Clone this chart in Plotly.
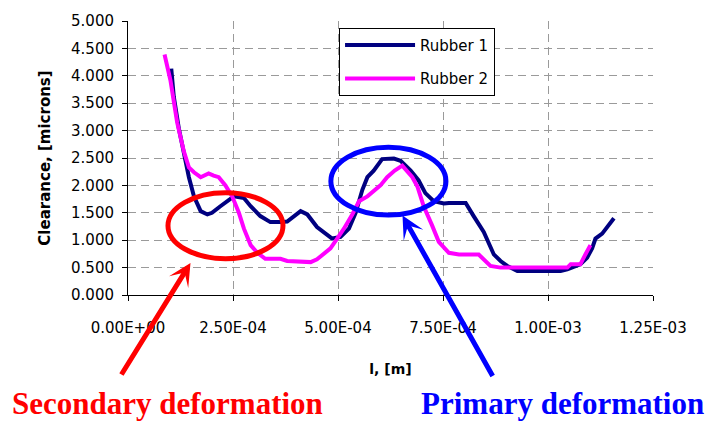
import plotly.graph_objects as go

# ---- data ----
x_r1 = [1.03e-4, 1.09e-4, 1.21e-4, 1.33e-4, 1.45e-4, 1.57e-4, 1.73e-4, 1.89e-4, 2.00e-4, 2.20e-4,
        2.36e-4, 2.52e-4, 2.76e-4, 2.92e-4, 3.15e-4, 3.39e-4, 3.63e-4, 3.79e-4, 4.11e-4, 4.27e-4,
        4.50e-4, 4.70e-4, 4.86e-4, 5.06e-4, 5.26e-4, 5.42e-4, 5.58e-4, 5.70e-4, 5.85e-4, 6.05e-4,
        6.25e-4, 6.33e-4, 6.49e-4, 6.73e-4, 6.92e-4, 7.08e-4, 7.28e-4, 7.52e-4, 7.64e-4, 8.04e-4,
        8.23e-4, 8.47e-4, 8.71e-4, 8.87e-4, 9.03e-4, 9.27e-4, 1.030e-3, 1.046e-3, 1.077e-3, 1.093e-3,
        1.105e-3, 1.113e-3, 1.129e-3, 1.145e-3, 1.157e-3]
y_r1 = [4.13, 3.62, 3.04, 2.56, 2.15, 1.80, 1.53, 1.47, 1.50, 1.62,
        1.71, 1.80, 1.77, 1.62, 1.44, 1.33, 1.33, 1.34, 1.53, 1.47,
        1.24, 1.12, 1.03, 1.06, 1.21, 1.50, 1.92, 2.15, 2.27, 2.48,
        2.50, 2.49, 2.45, 2.27, 2.09, 1.86, 1.71, 1.67, 1.68, 1.68,
        1.44, 1.15, 0.74, 0.62, 0.53, 0.44, 0.44, 0.47, 0.56, 0.68,
        0.85, 1.03, 1.12, 1.27, 1.40]

x_r2 = [8.7e-5, 1.01e-4, 1.17e-4, 1.33e-4, 1.45e-4, 1.57e-4, 1.73e-4, 1.92e-4, 2.04e-4, 2.16e-4,
        2.32e-4, 2.48e-4, 2.64e-4, 2.76e-4, 2.92e-4, 3.08e-4, 3.27e-4, 3.63e-4, 3.79e-4, 4.35e-4,
        4.50e-4, 4.66e-4, 4.82e-4, 4.98e-4, 5.14e-4, 5.34e-4, 5.50e-4, 5.70e-4, 5.85e-4, 6.01e-4,
        6.17e-4, 6.35e-4, 6.53e-4, 6.77e-4, 6.89e-4, 7.04e-4, 7.24e-4, 7.40e-4, 7.64e-4, 7.88e-4,
        8.35e-4, 8.63e-4, 8.87e-4, 1.046e-3, 1.054e-3, 1.077e-3, 1.089e-3, 1.101e-3]
y_r2 = [4.39, 3.92, 3.15, 2.62, 2.33, 2.24, 2.15, 2.22, 2.18, 2.15,
        2.00, 1.80, 1.50, 1.21, 0.91, 0.77, 0.66, 0.66, 0.62, 0.60,
        0.65, 0.74, 0.85, 1.03, 1.21, 1.47, 1.71, 1.80, 1.89, 2.00,
        2.15, 2.27, 2.36, 2.15, 1.98, 1.62, 1.27, 0.97, 0.77, 0.74,
        0.74, 0.53, 0.50, 0.50, 0.56, 0.56, 0.74, 0.91]

x_tickvals = [0, 2.5e-4, 5.0e-4, 7.5e-4, 1.0e-3, 1.25e-3]
x_ticktext = ["0.00E+00", "2.50E-04", "5.00E-04", "7.50E-04", "1.00E-03", "1.25E-03"]
y_tickvals = [0, 0.5, 1, 1.5, 2, 2.5, 3, 3.5, 4, 4.5, 5]
y_ticktext = ["0.000", "0.500", "1.000", "1.500", "2.000", "2.500",
              "3.000", "3.500", "4.000", "4.500", "5.000"]

series_names = ["Rubber 1", "Rubber 2"]
series_colors = ["#000080", "#FF00FF"]

FONT = "DejaVu Sans"

fig = go.Figure()
fig.add_trace(go.Scatter(x=x_r1, y=y_r1, mode="lines", name=series_names[0],
                         legendgroup="a",
                         line=dict(color=series_colors[0], width=4)))
fig.add_trace(go.Scatter(x=x_r2, y=y_r2, mode="lines", name=series_names[1],
                         legendgroup="b",
                         line=dict(color=series_colors[1], width=4)))

fig.update_layout(
    width=706, height=423,
    margin=dict(l=128, r=53, t=12, b=128),
    paper_bgcolor="white", plot_bgcolor="white",
    font=dict(family=FONT, size=15, color="black"),
    showlegend=True,
    legend=dict(x=0.402, y=0.975, xanchor="left", yanchor="top",
                bgcolor="white", bordercolor="black", borderwidth=1,
                font=dict(family=FONT, size=15, color="black"),
                itemwidth=70, tracegroupgap=11),
    hovermode=False,
)

fig.update_xaxes(
    range=[0, 1.25e-3], tickmode="array", tickvals=x_tickvals, ticktext=x_ticktext,
    showline=True, linecolor="black", linewidth=1,
    ticks="outside", ticklen=5, tickcolor="black",
    showgrid=True, gridcolor="#9a9a9a", griddash="8px,5px", gridwidth=1,
    zeroline=False, ticklabelstandoff=14,
    title=dict(text="l, [m]", font=dict(family=FONT, size=14, weight="bold"), standoff=28),
)
fig.update_yaxes(
    range=[0, 5], tickmode="array", tickvals=y_tickvals, ticktext=y_ticktext,
    showline=True, linecolor="black", linewidth=1,
    ticks="outside", ticklen=5, tickcolor="black",
    showgrid=True, gridcolor="#9a9a9a", griddash="8px,5px", gridwidth=1,
    zeroline=False, ticklabelstandoff=5,
    title=dict(text="Clearance, [microns]", font=dict(family=FONT, size=15, weight="bold"), standoff=16),
)

# ellipses
fig.add_shape(type="circle", xref="x", yref="y",
              x0=9.52e-5, x1=3.69e-4, y0=0.663, y1=1.866,
              line=dict(color="#FF0000", width=5))
fig.add_shape(type="circle", xref="x", yref="y",
              x0=4.83e-4, x1=7.57e-4, y0=1.459, y1=2.697,
              line=dict(color="#0000FF", width=5))

# arrows
fig.add_annotation(x=1.488e-4, y=0.584, xref="x", yref="y", text="",
                   showarrow=True, ax=-70, ay=113, axref="pixel", ayref="pixel",
                   arrowcolor="#FF0000", arrowwidth=5, arrowhead=3, arrowsize=0.75)
fig.add_annotation(x=6.536e-4, y=1.45, xref="x", yref="y", text="",
                   showarrow=True, ax=91, ay=162, axref="pixel", ayref="pixel",
                   arrowcolor="#0000FF", arrowwidth=5, arrowhead=3, arrowsize=0.75)

# captions
fig.add_annotation(x=0.0743, y=-0.396, xref="paper", yref="paper", showarrow=False,
                   text="Secondary deformation", xanchor="center", yanchor="middle",
                   font=dict(family="Liberation Serif", size=31, color="#FF0000", weight="bold"))
fig.add_annotation(x=0.8276, y=-0.396, xref="paper", yref="paper", showarrow=False,
                   text="Primary deformation", xanchor="center", yanchor="middle",
                   font=dict(family="Liberation Serif", size=31, color="#0000FF", weight="bold"))

fig.write_html("out.html", config=dict(displayModeBar=False))
